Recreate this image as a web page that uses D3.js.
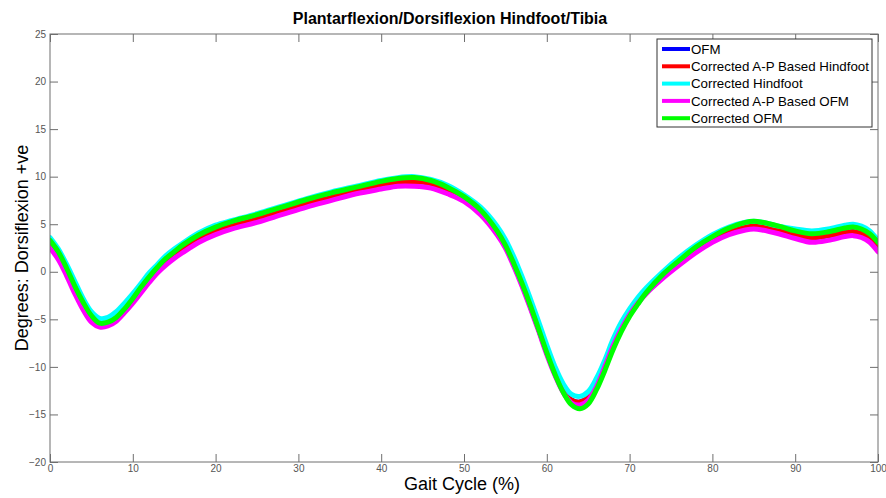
<!DOCTYPE html>
<html>
<head>
<meta charset="utf-8">
<script src="https://cdn.jsdelivr.net/npm/d3@7"></script>
<style>
  html, body { margin: 0; padding: 0; background: #fff; }
  svg { display: block; }
  text { font-family: Arial, "Liberation Sans", sans-serif; }
</style>
</head>
<body>
<svg id="chart" width="886" height="498"></svg>
<script>
const titleText = "Plantarflexion/Dorsiflexion Hindfoot/Tibia";
const xLabel = "Gait Cycle (%)";
const yLabel = "Degrees: Dorsiflexion +ve";

const xTicks = [0, 10, 20, 30, 40, 50, 60, 70, 80, 90, 100];
const yTicks = [-20, -15, -10, -5, 0, 5, 10, 15, 20, 25];

const seriesNames = ["OFM", "Corrected A-P Based Hindfoot", "Corrected Hindfoot", "Corrected A-P Based OFM", "Corrected OFM"];
const seriesColors = ["#0000ff", "#ff0000", "#00ffff", "#ff00ff", "#00ff00"];

const gait = [0,1,2,3,4,5,6,7,8,9,10,11,12,13,14,15,16,18,20,22,25,28,31,34,37,40,42,44,46,48,50,52,54,55,56,57,58,59,60,61,62,63,64,65,66,67,68,69,70,71,72,74,76,78,80,82,84,85,86,88,90,92,94,96,97,98,99,100];

const ofm = [2.9,1.7,0.0,-1.9,-3.6,-4.9,-5.5,-5.4,-4.9,-4.0,-3.0,-1.9,-0.8,0.2,1.0,1.7,2.3,3.4,4.2,4.8,5.5,6.3,7.1,7.8,8.5,9.1,9.4,9.5,9.3,8.6,7.7,6.3,4.2,2.7,0.8,-1.3,-3.6,-6.0,-8.5,-10.7,-12.5,-13.5,-13.7,-13.2,-11.8,-9.8,-7.6,-5.8,-4.3,-3.1,-2.1,-0.4,1.0,2.3,3.4,4.2,4.8,4.9,4.8,4.4,3.9,3.6,3.8,4.1,4.2,4.0,3.5,2.6];
const apHindfoot = [2.9,1.7,0.0,-1.9,-3.6,-4.9,-5.5,-5.4,-4.9,-4.0,-3.0,-1.9,-0.8,0.2,1.0,1.7,2.3,3.4,4.2,4.8,5.5,6.3,7.1,7.8,8.5,9.1,9.4,9.5,9.3,8.6,7.7,6.3,4.2,2.7,0.8,-1.3,-3.6,-6.0,-8.5,-10.7,-12.5,-13.5,-13.7,-13.2,-11.8,-9.8,-7.6,-5.8,-4.3,-3.1,-2.1,-0.4,1.0,2.3,3.4,4.2,4.8,4.9,4.8,4.4,3.9,3.6,3.8,4.1,4.2,4.0,3.5,2.6];
const hindfoot = [3.6,2.4,0.8,-1.0,-2.8,-4.2,-4.9,-4.8,-4.2,-3.3,-2.3,-1.2,-0.1,0.8,1.7,2.4,3.0,4.1,4.9,5.4,6.1,6.9,7.7,8.4,9.0,9.6,9.9,10.0,9.7,9.1,8.1,6.8,4.8,3.4,1.6,-0.5,-2.8,-5.2,-7.7,-10.0,-11.8,-12.9,-13.1,-12.6,-11.2,-9.3,-7.1,-5.3,-3.9,-2.7,-1.7,0.0,1.5,2.8,3.9,4.7,5.2,5.3,5.2,4.8,4.5,4.3,4.5,4.9,5.0,4.8,4.3,3.3];
const apOfm = [2.5,1.3,-0.4,-2.3,-4.0,-5.3,-5.8,-5.7,-5.2,-4.3,-3.3,-2.2,-1.1,-0.1,0.7,1.4,2.0,3.1,3.9,4.5,5.2,6.0,6.8,7.5,8.2,8.7,9.0,9.0,8.8,8.2,7.4,6.0,3.9,2.5,0.6,-1.5,-3.8,-6.2,-8.7,-10.9,-12.7,-13.8,-14.0,-13.5,-12.1,-10.0,-7.8,-6.0,-4.5,-3.3,-2.3,-0.7,0.7,2.0,3.1,3.9,4.4,4.5,4.4,4.0,3.5,3.1,3.3,3.7,3.8,3.6,3.1,2.1];
const corrOfm = [3.3,2.1,0.4,-1.5,-3.2,-4.6,-5.4,-5.3,-4.8,-3.9,-2.8,-1.6,-0.5,0.5,1.4,2.1,2.8,3.9,4.7,5.3,6.0,6.8,7.6,8.3,8.9,9.5,9.8,9.9,9.6,8.9,7.9,6.5,4.3,2.8,0.9,-1.2,-3.5,-6.0,-8.5,-10.8,-12.7,-14.0,-14.4,-13.9,-12.4,-10.4,-8.2,-6.3,-4.7,-3.4,-2.2,-0.3,1.2,2.6,3.7,4.6,5.2,5.3,5.2,4.8,4.3,4.0,4.2,4.6,4.7,4.5,4.0,3.1];

const seriesValues = [ofm, apHindfoot, hindfoot, apOfm, corrOfm];

const svg = d3.select("#chart");
const W = 886, H = 498;
const m = { left: 50, right: 8, top: 34, bottom: 36 };
const x = d3.scaleLinear().domain([0, 100]).range([m.left, W - m.right]);
const y = d3.scaleLinear().domain([-20, 25]).range([H - m.bottom, m.top]);

svg.append("rect").attr("width", W).attr("height", H).attr("fill", "#fff");

const axisColor = "#6e6e6e";
const tickLen = 8;

function styleAxis(g, showLabels) {
  g.select(".domain").remove();
  g.selectAll(".tick line").attr("stroke", axisColor).attr("stroke-width", 1);
  g.selectAll(".tick text")
    .attr("fill", "#555")
    .style("font-size", "10px")
    .style("font-family", "Arial, 'Liberation Sans', sans-serif")
    .style("display", showLabels ? null : "none");
}

svg.append("g")
  .attr("transform", `translate(0,${H - m.bottom})`)
  .call(d3.axisBottom(x).tickValues(xTicks).tickSizeInner(-tickLen).tickSizeOuter(0).tickPadding(3))
  .call(g => styleAxis(g, true));
svg.append("g")
  .attr("transform", `translate(0,${m.top})`)
  .call(d3.axisTop(x).tickValues(xTicks).tickSizeInner(-tickLen).tickSizeOuter(0))
  .call(g => styleAxis(g, false));
svg.append("g")
  .attr("transform", `translate(${m.left},0)`)
  .call(d3.axisLeft(y).tickValues(yTicks).tickSizeInner(-tickLen).tickSizeOuter(0).tickPadding(4))
  .call(g => styleAxis(g, true));
svg.append("g")
  .attr("transform", `translate(${W - m.right},0)`)
  .call(d3.axisRight(y).tickValues(yTicks).tickSizeInner(-tickLen).tickSizeOuter(0))
  .call(g => styleAxis(g, false));

const clipId = "plotclip";
svg.append("clipPath").attr("id", clipId).append("rect")
  .attr("x", m.left).attr("y", m.top)
  .attr("width", W - m.left - m.right).attr("height", H - m.top - m.bottom);

const line = d3.line()
  .x((d, i) => x(gait[i]))
  .y(d => y(d))
  .curve(d3.curveCatmullRom.alpha(0.5));

const linesG = svg.append("g").attr("clip-path", `url(#${clipId})`);
seriesValues.forEach((vals, k) => {
  linesG.append("path")
    .attr("d", line(vals))
    .attr("fill", "none")
    .attr("stroke", seriesColors[k])
    .attr("stroke-width", 5)
    .attr("stroke-linejoin", "round")
    .attr("stroke-linecap", "round");
});

// frame
svg.append("rect")
  .attr("x", m.left).attr("y", m.top)
  .attr("width", W - m.left - m.right).attr("height", H - m.top - m.bottom)
  .attr("fill", "none").attr("stroke", axisColor).attr("stroke-width", 1);

// title
svg.append("text")
  .attr("x", 450).attr("y", 24)
  .attr("text-anchor", "middle")
  .style("font-weight", "bold").style("font-size", "16px")
  .attr("fill", "#000")
  .text(titleText);

// axis labels
svg.append("text")
  .attr("x", 462).attr("y", 490)
  .attr("text-anchor", "middle")
  .style("font-size", "18px")
  .attr("fill", "#000")
  .text(xLabel);
svg.append("text")
  .attr("transform", `translate(28,${(m.top + H - m.bottom) / 2}) rotate(-90)`)
  .attr("text-anchor", "middle")
  .style("font-size", "18px")
  .attr("fill", "#000")
  .text(yLabel);

// legend
const lg = svg.append("g");
lg.append("rect")
  .attr("x", 657).attr("y", 39).attr("width", 215).attr("height", 88)
  .attr("fill", "#fff").attr("stroke", "#333").attr("stroke-width", 1);
seriesNames.forEach((name, k) => {
  const yy = 49 + k * 17.3;
  lg.append("line")
    .attr("x1", 662).attr("x2", 690).attr("y1", yy).attr("y2", yy)
    .attr("stroke", seriesColors[k]).attr("stroke-width", 4);
  lg.append("text")
    .attr("x", 691).attr("y", yy + 4.7)
    .style("font-size", "13.3px")
    .attr("fill", "#000")
    .text(name);
});
</script>
</body>
</html>
